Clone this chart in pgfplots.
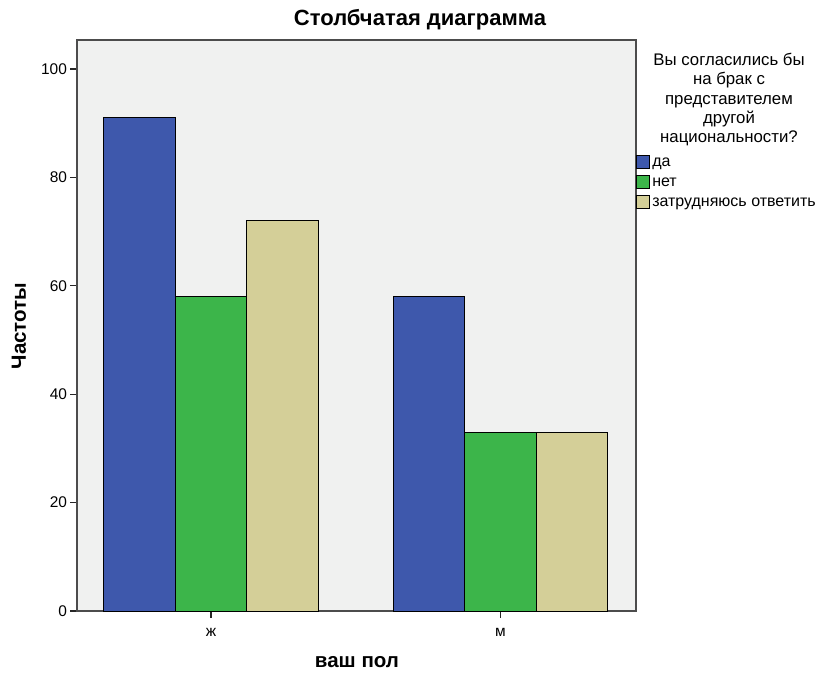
\documentclass[border=0pt]{standalone}
\usepackage{pgfplots}
\pgfplotsset{compat=1.18}
\usepackage{fontspec}
\setmainfont{Liberation Sans}
\definecolor{cda}{HTML}{3E58AC}
\definecolor{cnet}{HTML}{3CB54A}
\definecolor{czat}{HTML}{D4CF98}
\definecolor{cbg}{HTML}{F0F1F0}
\begin{document}
\begin{tikzpicture}[x=0.75pt,y=0.75pt]
\useasboundingbox (0,0) rectangle (820,-673);
\begin{axis}[
  at={(77*0.75pt,-611*0.75pt)}, anchor=south west,
  scale only axis, width=419.25pt, height=428.25pt,
  ybar=0pt, bar width=53.6pt,
  xmin=-0.463, xmax=1.468, ymin=0, ymax=105.35,
  xtick={0,1}, xticklabels={ж,м},
  ytick={0,20,40,60,80,100},
  tick align=outside, major tick length=5pt,
  tick style={black!85, line width=0.9pt},
  axis line style={black!70, line width=1pt},
  axis background/.style={fill=cbg},
  xtick pos=bottom, ytick pos=left,
  ticklabel style={font=\fontsize{11.6}{13}\selectfont},
  yticklabel style={xshift=1pt},
  /pgf/number format/assume math mode=true,
  xticklabel style={yshift=-4.5pt},
  legend style={at={(1,0.799)}, anchor=north west, draw=none, fill=none,
    font=\fontsize{12}{13}\selectfont, inner sep=0pt, row sep=3pt,
    /tikz/every even column/.append style={column sep=0pt}},
  legend cell align=left,
  area legend,
  legend image code/.code={\draw[#1, draw=black, line width=0.6pt] (0cm,-0.14cm) rectangle (0.33cm,0.2cm);},
]
\addplot[fill=cda, draw=black, line width=0.7pt] coordinates {(0,91) (1,58)};
\addplot[fill=cnet, draw=black, line width=0.7pt] coordinates {(0,58) (1,33)};
\addplot[fill=czat, draw=black, line width=0.7pt] coordinates {(0,72) (1,33)};
\legend{да,нет,затрудняюсь ответить}
\end{axis}
\node[font=\bfseries\fontsize{16.5}{18}\selectfont] at (420,-20) {Столбчатая диаграмма};
\node[font=\bfseries\fontsize{15.4}{17}\selectfont, rotate=90] at (19,-326) {Частоты};
\node[font=\bfseries\fontsize{15.4}{17}\selectfont] at (357,-662) {ваш пол};
\node[font=\fontsize{12.6}{14.5}\selectfont, align=center, anchor=north, inner sep=0pt] at (729,-53) {Вы согласились бы\\на брак с\\представителем\\другой\\национальности?};
\end{tikzpicture}
\end{document}
